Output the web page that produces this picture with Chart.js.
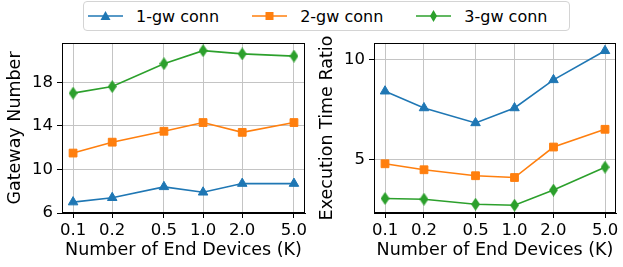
<!DOCTYPE html>
<html>
<head>
<meta charset="utf-8">
<script src="https://cdn.jsdelivr.net/npm/chart.js@4.4.1/dist/chart.umd.min.js"></script>
<style>
  body { margin: 0; background: #fff; }
  #wrap { position: relative; width: 623px; height: 267px; overflow: hidden; font-family: "DejaVu Sans", sans-serif; }
  canvas { position: absolute; top: 0; }
  #legend {
    position: absolute; left: 83px; top: 1px; width: 481px; height: 28px;
    border: 1px solid #d4d4d4; border-radius: 4px; background: #fff;
    display: flex; align-items: center; padding-left: 4px; box-sizing: content-box;
    font-size: 16px; color: #000; z-index: 2;
  }
  .item { display: flex; align-items: center; margin-right: 33px; }
  .item span { margin-left: 13px; white-space: nowrap; }
</style>
</head>
<body>
<div id="wrap">
  <div id="legend"></div>
  <canvas id="gwChart" width="312" height="267" style="left:0"></canvas>
  <canvas id="timeChart" width="311" height="267" style="left:312px"></canvas>
</div>
<script>
// end devices (K)
const devices = [0.1, 0.2, 0.5, 1.0, 2.0, 5.0];
const seriesNames = ['1-gw conn', '2-gw conn', '3-gw conn'];
const colors = ['#1f77b4', '#ff7f0e', '#2ca02c'];

// left: gateway number
const gw1 = [7.0, 7.4, 8.4, 7.9, 8.7, 8.7];
const gw2 = [11.5, 12.5, 13.5, 14.3, 13.4, 14.3];
const gw3 = [17.0, 17.6, 19.7, 20.9, 20.6, 20.4];
const gwTicks = [6, 10, 14, 18];

// right: execution time ratio
const t1 = [8.42, 7.58, 6.83, 7.58, 8.99, 10.45];
const t2 = [4.78, 4.48, 4.18, 4.09, 5.62, 6.51];
const t3 = [3.04, 3.00, 2.75, 2.70, 3.46, 4.61];
const timeTicks = [5, 10];

// thin diamond like matplotlib 'd'
function thinDiamond(color) {
    const c = document.createElement('canvas');
    c.width = 9; c.height = 13;
    const g = c.getContext('2d');
    g.fillStyle = color;
    g.beginPath();
    g.moveTo(4.5, 0); g.lineTo(9, 6.5); g.lineTo(4.5, 13); g.lineTo(0, 6.5);
    g.closePath(); g.fill();
    return c;
}
const markers = [
    { style: 'triangle', radius: 5.5 },
    { style: 'rect', radius: 5.5 },
    { style: thinDiamond(colors[2]), radius: 6 }
];

// legend (html)
const legend = document.getElementById('legend');
seriesNames.forEach((name, i) => {
    let mk = '';
    if (i === 0) mk = '<polygon points="17.5,1 22.5,10 12.5,10" fill="' + colors[0] + '"/>';
    if (i === 1) mk = '<rect x="13.5" y="2" width="8" height="8" fill="' + colors[1] + '"/>';
    if (i === 2) mk = '<polygon points="17.5,0 21,6 17.5,12 14,6" fill="' + colors[2] + '"/>';
    const el = document.createElement('div');
    el.className = 'item';
    el.innerHTML = '<svg width="35" height="12"><line x1="0" y1="6" x2="35" y2="6" stroke="' + colors[i] +
        '" stroke-width="1.6"/>' + mk + '</svg><span>' + name + '</span>';
    legend.appendChild(el);
});

const frame = {
    id: 'frame',
    afterDatasetsDraw(chart) {
        const a = chart.chartArea, ctx = chart.ctx;
        ctx.save();
        ctx.strokeStyle = '#000';
        ctx.lineWidth = 1;
        ctx.strokeRect(Math.round(a.left) + 0.5, Math.round(a.top) + 0.5,
            Math.round(a.right - a.left) - 1, Math.round(a.bottom - a.top) - 1);
        ctx.restore();
    }
};

const tickFont = { family: 'DejaVu Sans', size: 16.5 };
const titleFont = { family: 'DejaVu Sans', size: 17.5 };

function makeChart(id, data, yMin, yMax, yTicks, yTitle, padRight) {
    return new Chart(document.getElementById(id), {
        type: 'line',
        data: {
            datasets: data.map((vals, i) => ({
                label: seriesNames[i],
                data: devices.map((d, j) => ({ x: d, y: vals[j] })),
                borderColor: colors[i],
                backgroundColor: colors[i],
                borderWidth: 1.6,
                pointStyle: markers[i].style,
                pointRadius: markers[i].radius,
                pointHoverRadius: markers[i].radius,
                pointBorderWidth: 1,
                pointBorderColor: colors[i],
                pointBackgroundColor: colors[i],
                tension: 0,
                clip: false
            }))
        },
        options: {
            responsive: false,
            animation: false,
            devicePixelRatio: 1,
            layout: { padding: { top: 43, right: padRight, left: 0, bottom: 0 } },
            plugins: { legend: { display: false }, tooltip: { enabled: false } },
            scales: {
                x: {
                    type: 'logarithmic',
                    min: 0.0822,
                    max: 6.08,
                    afterBuildTicks: s => { s.ticks = devices.map(v => ({ value: v })); },
                    afterFit: s => { s.height = 54; },
                    ticks: {
                        color: '#000', font: tickFont, padding: 3, maxRotation: 0, autoSkip: false,
                        callback: v => Number(v).toFixed(1)
                    },
                    grid: { color: '#c4c4c4', lineWidth: 1, tickColor: '#000', tickLength: 5 },
                    border: { display: true, color: '#000', width: 1 },
                    title: {
                        display: true, text: 'Number of End Devices (K)', color: '#000',
                        font: titleFont, padding: { top: 0, bottom: 6 }
                    }
                },
                y: {
                    min: yMin,
                    max: yMax,
                    afterBuildTicks: s => { s.ticks = yTicks.map(v => ({ value: v })); },
                    afterFit: s => { s.width = 62; },
                    ticks: { color: '#000', font: tickFont, padding: 4 },
                    grid: { color: '#c4c4c4', lineWidth: 1, tickColor: '#000', tickLength: 5 },
                    border: { display: true, color: '#000', width: 1 },
                    title: {
                        display: true, text: yTitle, color: '#000',
                        font: titleFont, padding: { top: 5, bottom: 0 }
                    }
                }
            }
        },
        plugins: [frame]
    });
}

makeChart('gwChart', [gw1, gw2, gw3], 6, 21.6, gwTicks, 'Gateway Number', 6);
makeChart('timeChart', [t1, t2, t3], 2.31, 10.84, timeTicks, 'Execution Time Ratio', 4);
</script>
</body>
</html>
